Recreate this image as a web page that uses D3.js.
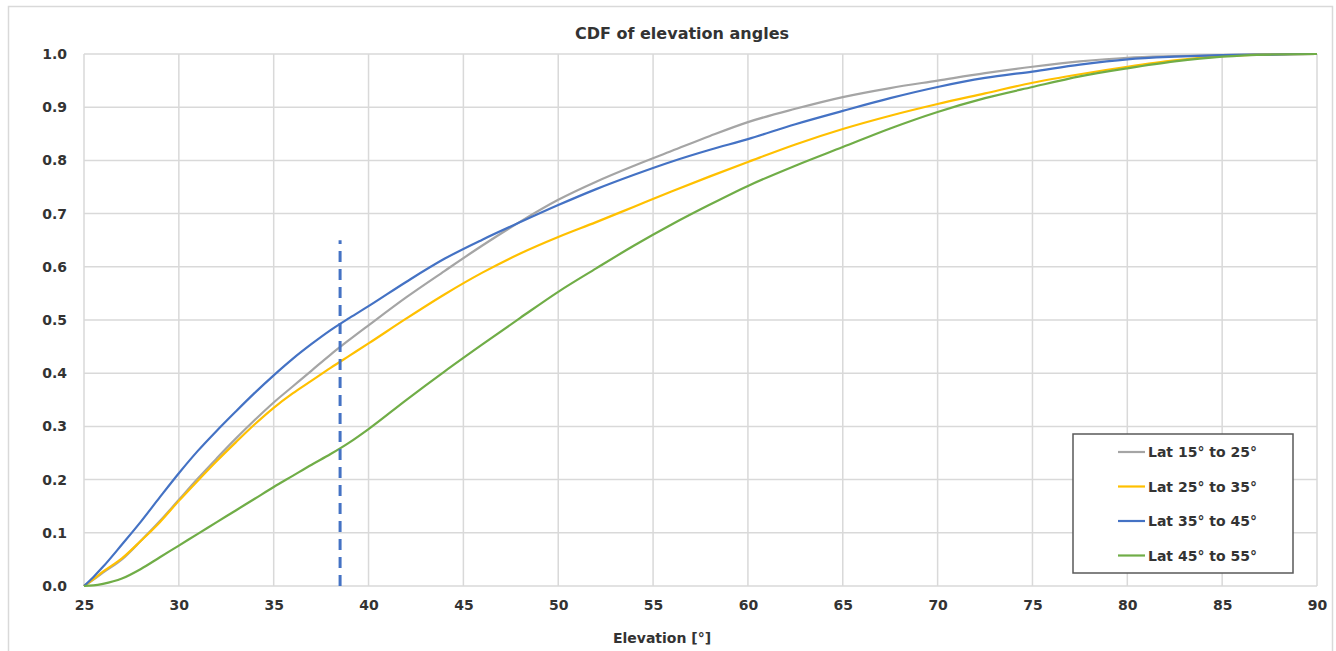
<!DOCTYPE html>
<html><head><meta charset="utf-8">
<script src="https://cdn.jsdelivr.net/npm/d3@7"></script>
<style>body{margin:0;background:#fff}svg{display:block}text{font-family:"DejaVu Sans",Verdana,sans-serif;font-weight:bold;fill:#333}</style>
</head><body><svg id="c" width="1336" height="651"></svg>
<script>
const elevation = [25,25.5,26,27,28,29,30,31,32,33,34,35,36,37,38,39,40,42,44,46,48,50,52,54,56,58,60,62.5,65,67.5,70,72.5,75,77.5,80,82.5,85,87.5,90];
const lat15to25 = [0,0.012,0.025,0.05,0.085,0.122,0.162,0.202,0.24,0.277,0.312,0.345,0.375,0.405,0.435,0.463,0.49,0.543,0.592,0.64,0.685,0.726,0.76,0.79,0.818,0.846,0.872,0.897,0.919,0.936,0.95,0.964,0.976,0.986,0.993,0.996,0.998,0.999,1.0];
const lat25to35 = [0,0.013,0.027,0.052,0.085,0.12,0.16,0.198,0.235,0.27,0.304,0.335,0.362,0.386,0.41,0.433,0.456,0.503,0.548,0.589,0.625,0.656,0.684,0.713,0.742,0.77,0.797,0.83,0.859,0.884,0.906,0.926,0.946,0.962,0.976,0.988,0.996,0.999,1.0];
const lat35to45 = [0,0.017,0.036,0.078,0.121,0.167,0.212,0.254,0.292,0.328,0.363,0.396,0.427,0.455,0.481,0.504,0.526,0.572,0.615,0.651,0.684,0.716,0.746,0.773,0.798,0.82,0.84,0.868,0.893,0.917,0.938,0.955,0.967,0.98,0.99,0.995,0.998,0.999,1.0];
const lat45to55 = [0,0.001,0.004,0.014,0.032,0.054,0.076,0.098,0.12,0.142,0.164,0.186,0.207,0.228,0.248,0.27,0.295,0.35,0.403,0.454,0.504,0.553,0.597,0.64,0.68,0.717,0.752,0.79,0.825,0.86,0.891,0.917,0.938,0.958,0.973,0.986,0.995,0.999,1.0];
const seriesNames = ["Lat 15° to 25°","Lat 25° to 35°","Lat 35° to 45°","Lat 45° to 55°"];
const seriesValues = [lat15to25, lat25to35, lat35to45, lat45to55];
const seriesColors = ["#A5A5A5","#FFC000","#4472C4","#70AD47"];
const xTicks = [25,30,35,40,45,50,55,60,65,70,75,80,85,90];
const yTicks = [0,0.1,0.2,0.3,0.4,0.5,0.6,0.7,0.8,0.9,1.0];
const markerX = 38.5, markerTop = 0.65;

const svg = d3.select("#c");
const x = d3.scaleLinear().domain([25,90]).range([84,1317]);
const y = d3.scaleLinear().domain([0,1]).range([586,54]);

svg.append("rect").attr("x",8.5).attr("y",6.5).attr("width",1324).attr("height",700)
  .attr("fill","none").attr("stroke","#D9D9D9").attr("stroke-width",1.5);

svg.append("text").attr("x",682).attr("y",39).attr("text-anchor","middle")
  .style("font-size","16px").text("CDF of elevation angles");

const g = svg.append("g");
g.selectAll(".vg").data(xTicks).join("line")
  .attr("x1",d=>x(d)).attr("x2",d=>x(d)).attr("y1",y(0)).attr("y2",y(1))
  .attr("stroke","#D9D9D9").attr("stroke-width",1.5);
g.selectAll(".hg").data(yTicks).join("line")
  .attr("x1",x(25)).attr("x2",x(90)).attr("y1",d=>y(d)).attr("y2",d=>y(d))
  .attr("stroke","#D9D9D9").attr("stroke-width",1.5);

const xAxis = d3.axisBottom(x).tickValues(xTicks).tickSize(0).tickPadding(14).tickFormat(d3.format("d"));
svg.append("g").attr("transform",`translate(0,${y(0)})`).call(xAxis)
  .call(a=>a.select(".domain").remove())
  .selectAll("text").style("font-size","14px").style("font-family","'DejaVu Sans',Verdana,sans-serif").attr("fill","#333");
const yAxis = d3.axisLeft(y).tickValues(yTicks).tickSize(0).tickPadding(17).tickFormat(d3.format(".1f"));
svg.append("g").attr("transform",`translate(${x(25)},0)`).call(yAxis)
  .call(a=>a.select(".domain").remove())
  .selectAll("text").style("font-size","14px").style("font-family","'DejaVu Sans',Verdana,sans-serif").attr("fill","#333");

svg.append("text").attr("x",662).attr("y",643).attr("text-anchor","middle")
  .style("font-size","14px").text("Elevation [°]");

const line = d3.line().x((d,i)=>x(elevation[i])).y(d=>y(d)).curve(d3.curveMonotoneX);
seriesValues.forEach((vals,k)=>{
  svg.append("path").attr("d",line(vals)).attr("fill","none")
    .attr("stroke",seriesColors[k]).attr("stroke-width",2.2);
});

svg.append("line").attr("x1",x(markerX)).attr("x2",x(markerX)).attr("y1",y(0)).attr("y2",y(markerTop))
  .attr("stroke","#4472C4").attr("stroke-width",3).attr("stroke-dasharray","11,7");

const lg = svg.append("g");
lg.append("rect").attr("x",1073).attr("y",434).attr("width",220).attr("height",139)
  .attr("fill","#fff").attr("stroke","#595959").attr("stroke-width",1.5);
seriesNames.forEach((n,k)=>{
  const yy = 452 + k*34.5;
  lg.append("line").attr("x1",1118).attr("x2",1145).attr("y1",yy).attr("y2",yy)
    .attr("stroke",seriesColors[k]).attr("stroke-width",2.2);
  lg.append("text").attr("x",1148).attr("y",yy+5).style("font-size","14px").text(n);
});
</script></body></html>
